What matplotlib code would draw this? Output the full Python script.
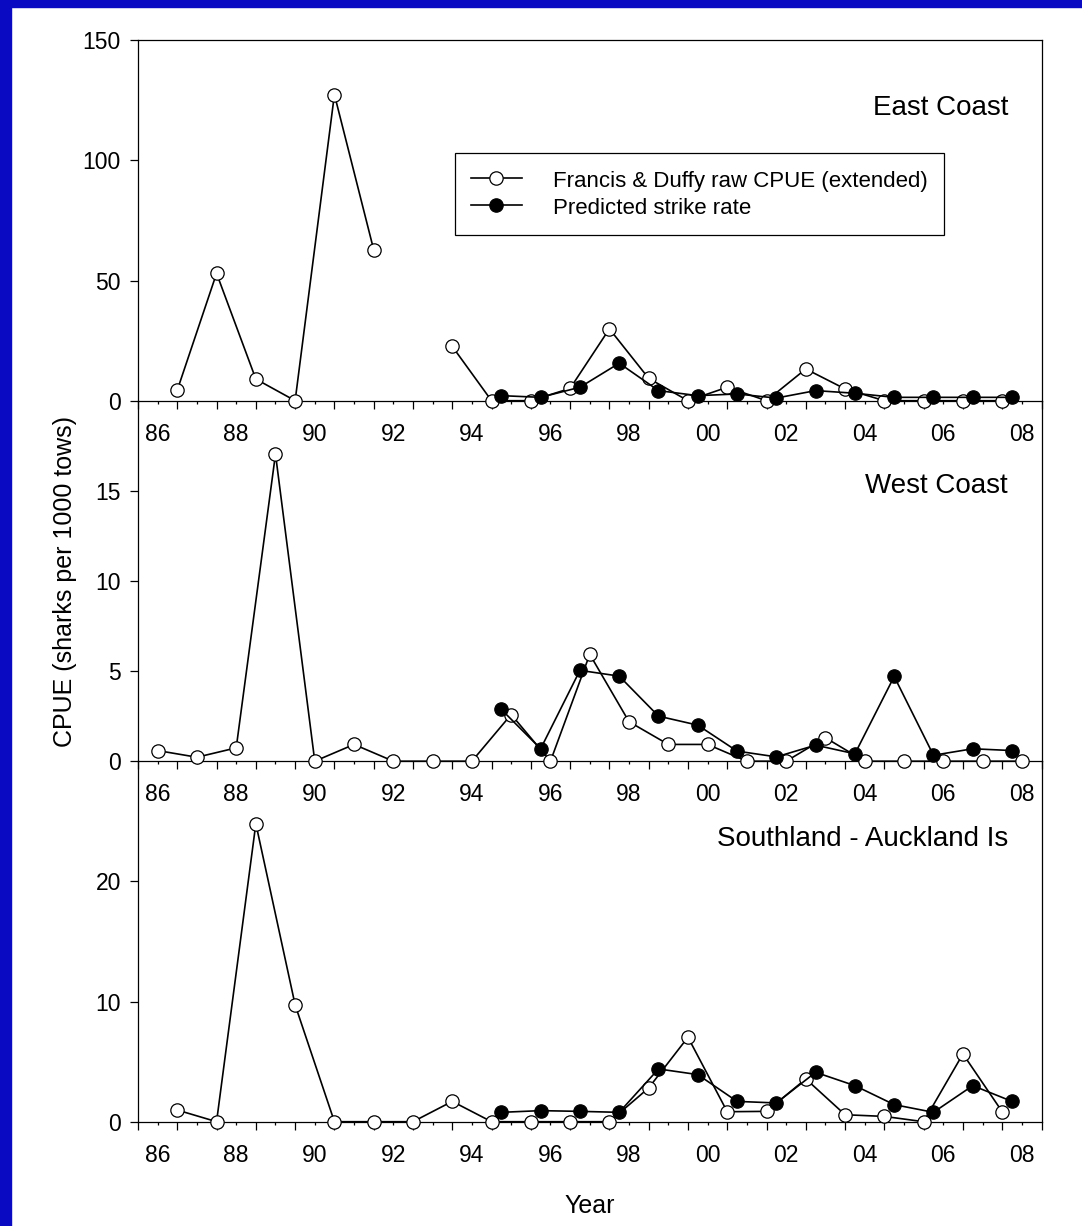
import numpy as np
import matplotlib
matplotlib.use('Agg')
import matplotlib.pyplot as plt
from matplotlib.patches import Rectangle
from matplotlib.ticker import NullFormatter

plt.rcParams['font.family'] = ['Liberation Sans', 'DejaVu Sans']

# ---- data ----
# x positions are fishing-year positions as plotted
raw_x_half = [1986.5, 1987.5, 1988.5, 1989.5, 1990.5, 1991.5, 1992.5, 1993.5,
              1994.5, 1995.5, 1996.5, 1997.5, 1998.5, 1999.5, 2000.5, 2001.5,
              2002.5, 2003.5, 2004.5, 2005.5, 2006.5, 2007.5]
raw_x_whole = [1986, 1987, 1988, 1989, 1990, 1991, 1992, 1993, 1994, 1995,
               1996, 1997, 1998, 1999, 2000, 2001, 2002, 2003, 2004, 2005,
               2006, 2007, 2008]
pred_x = [1994.75, 1995.75, 1996.75, 1997.75, 1998.75, 1999.75, 2000.75,
          2001.75, 2002.75, 2003.75, 2004.75, 2005.75, 2006.75, 2007.75]

east_raw = [4.4, 53.0, 9.0, 0.0, 127.4, 62.8, np.nan, 22.6, 0.0, 0.0, 5.1,
            29.9, 9.3, 0.0, 5.6, 0.0, 13.2, 4.9, 0.0, 0.0, 0.0, 0.0]
east_pred = [2.1, 1.4, 5.6, 15.6, 4.2, 2.1, 2.8, 1.1, 4.2, 3.1, 1.4, 1.4, 1.4, 1.4]

west_raw = [0.59, 0.22, 0.74, 17.04, 0.0, 0.93, 0.0, 0.0, 0.0, 2.59, 0.0,
            5.93, 2.19, 0.93, 0.93, 0.0, 0.0, 1.30, 0.0, 0.0, 0.0, 0.0, 0.0]
west_pred = [2.87, 0.69, 5.04, 4.72, 2.5, 2.0, 0.56, 0.24, 0.89, 0.41, 4.70,
             0.33, 0.69, 0.59]

south_raw = [0.97, 0.0, 24.8, 9.72, 0.0, 0.0, 0.0, 1.69, 0.0, 0.0, 0.0, 0.0,
             2.81, 7.03, 0.83, 0.86, 3.56, 0.58, 0.44, 0.0, 5.64, 0.83]
south_pred = [0.78, 0.92, 0.86, 0.78, 4.39, 3.92, 1.69, 1.56, 4.11, 3.0, 1.42,
              0.78, 3.0, 1.69]

label_years = [1986, 1987, 1988, 1989, 1990, 1991, 1992, 1993, 1994, 1995,
               1996, 1997, 1998, 1999, 2000, 2001, 2002, 2003, 2004, 2005,
               2006, 2007, 2008]
year_labels = ['86', '', '88', '', '90', '', '92', '', '94', '', '96', '',
               '98', '', '00', '', '02', '', '04', '', '06', '', '08']
boundary_ticks = [1985.5 + i for i in range(24)]

panels = [
    ('East Coast', raw_x_half, east_raw, east_pred, 150, [0, 50, 100, 150], 0.7925),
    ('West Coast', raw_x_whole, west_raw, west_pred, 20, [0, 5, 10, 15], 0.743),
    ('Southland - Auckland Is', raw_x_half, south_raw, south_pred, 30, [0, 10, 20], 0.765),
]

# ---- layout in pixels ----
W, H = 1082, 1226
LEFT, RIGHT = 138.0, 1041.5
TOP = 40.2
PH = 360.5
BLUE = '#0a0ac2'

fig = plt.figure(figsize=(W / 100, H / 100), dpi=100)
fig.patch.set_facecolor('white')

axes = []
for i, (title, rx, raw, pred, ymax, yticks, ty) in enumerate(panels):
    top = TOP + i * PH
    ax = fig.add_axes([LEFT / W, 1 - (top + PH) / H, (RIGHT - LEFT) / W, PH / H])
    ax.patch.set_visible(False)

    ax.plot(rx, raw, '-o', color='black', lw=1.2, ms=9.6, mfc='white',
            mec='black', mew=0.9, clip_on=False, zorder=3,
            label='Francis & Duffy raw CPUE (extended)')
    ax.plot(pred_x, pred, '-o', color='black', lw=1.2, ms=9.6, mfc='black',
            mec='black', mew=0.9, clip_on=False, zorder=4,
            label='Predicted strike rate')

    ax.set_xlim(1985.5, 2008.5)
    ax.set_ylim(0, ymax)
    ax.set_yticks(yticks)
    ax.set_yticklabels([str(v) for v in yticks])

    ax.set_xticks(boundary_ticks)
    ax.xaxis.set_major_formatter(NullFormatter())
    ax.set_xticks(label_years, minor=True)
    ax.set_xticklabels(year_labels, minor=True)

    ax.tick_params(axis='x', which='major', direction='out', length=5.6,
                   width=0.9, labelbottom=False)
    ax.tick_params(axis='x', which='minor', direction='out', length=2.3,
                   width=0.9, pad=13.5, labelsize=16.5)
    ax.tick_params(axis='y', which='major', direction='out', length=5.8,
                   width=0.9, pad=6.5, labelsize=16.5)
    ax.tick_params(axis='y', which='minor', length=0)

    for side in ['left', 'right', 'bottom', 'top']:
        ax.spines[side].set_linewidth(0.9)
    ax.spines['top'].set_visible(i == 0)

    ax.text(0.963, ty, title, transform=ax.transAxes, ha='right',
            va='baseline', fontsize=20)
    axes.append(ax)

leg = axes[0].legend(loc='upper left', bbox_to_anchor=(0.351, 0.688),
                     borderaxespad=0, frameon=True, fancybox=False,
                     edgecolor='black', framealpha=1, fontsize=16,
                     handlelength=2.28, handletextpad=1.4, borderpad=0.72,
                     handleheight=1.15, labelspacing=0.16, numpoints=1)
leg.get_frame().set_linewidth(0.9)

fig.text(65 / W, 1 - 581.7 / H, 'CPUE (sharks per 1000 tows)', rotation=90,
         ha='center', va='center', fontsize=18)
fig.text((LEFT + RIGHT) / 2 / W, 1 - 1213 / H, 'Year', ha='center',
         va='baseline', fontsize=18)

# blue slide border (left and top)
fig.patches.append(Rectangle((0, 0), 10.7 / W, 1, transform=fig.transFigure,
                             color=BLUE, zorder=10))
fig.patches.append(Rectangle((0, 1 - 6.7 / H), 1, 6.7 / H,
                             transform=fig.transFigure, color=BLUE, zorder=10))

fig.savefig('out.png', dpi=100)
